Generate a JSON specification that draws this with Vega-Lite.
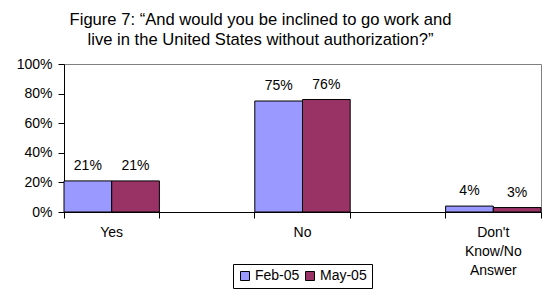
{
  "$schema": "https://vega.github.io/schema/vega-lite/v6.json",
  "width": 477,
  "height": 148,
  "autosize": {"type": "none"},
  "padding": {"left": 64, "top": 64, "right": 12, "bottom": 84},
  "background": "white",
  "title": {
    "text": ["Figure 7: “And would you be inclined to go work and", "live in the United States without authorization?”"],
    "font": "Liberation Sans",
    "fontSize": 16.6,
    "fontWeight": "normal",
    "color": "black",
    "anchor": "middle",
    "dx": -42,
    "offset": 8,
    "lineHeight": 20
  },
  "config": {
    "view": {"stroke": "#808080", "strokeWidth": 1},
    "axis": {"domainColor": "black", "tickColor": "black", "labelColor": "black", "labelFont": "Liberation Sans", "labelFontSize": 14, "grid": false, "title": null}
  },
  "data": {
    "values": [
      {"answer": "Yes", "survey": "Feb-05", "pct": 0.21},
      {"answer": "Yes", "survey": "May-05", "pct": 0.21},
      {"answer": "No", "survey": "Feb-05", "pct": 0.75},
      {"answer": "No", "survey": "May-05", "pct": 0.76},
      {"answer": "Don't Know/No Answer", "survey": "Feb-05", "pct": 0.04},
      {"answer": "Don't Know/No Answer", "survey": "May-05", "pct": 0.03}
    ]
  },
  "encoding": {
    "y": {"field": "pct", "type": "quantitative", "scale": {"domain": [0, 1]}, "axis": {"format": ".0%", "values": [0, 0.2, 0.4, 0.6, 0.8, 1], "tickSize": 6, "labelPadding": 6, "labelOverlap": false, "labelFlush": false}},
    "xOffset": {"field": "survey", "type": "nominal", "sort": ["Feb-05", "May-05"], "scale": {"paddingInner": 0, "paddingOuter": 0}}
  },
  "layer": [
    {
      "mark": {"type": "bar", "stroke": "black", "strokeWidth": 1},
      "encoding": {
        "x": {"field": "answer", "type": "nominal", "sort": ["Yes", "No", "Don't Know/No Answer"], "scale": {"paddingInner": 0.5, "paddingOuter": 0}, "axis": {"orient": "bottom", "bandPosition": 0, "labels": false, "ticks": true, "tickSize": 6, "domain": true}},
        "color": {"field": "survey", "type": "nominal", "sort": ["Feb-05", "May-05"], "scale": {"range": ["#9999FF", "#993366"]},
          "legend": {"orient": "none", "legendX": 169, "legendY": 200, "direction": "horizontal", "title": null, "strokeColor": "black", "fillColor": "white", "padding": 5, "symbolType": "square", "symbolSize": 81, "symbolStrokeColor": "black", "symbolStrokeWidth": 1, "labelFont": "Liberation Sans", "labelFontSize": 14, "labelColor": "black", "labelOffset": 3, "columnPadding": 3}}
      }
    },
    {
      "transform": [{"filter": "datum.survey == 'Feb-05'"}],
      "mark": {"type": "text", "baseline": "alphabetic", "dy": -11, "font": "Liberation Sans", "fontSize": 14, "color": "black"},
      "encoding": {
        "x": {"field": "answer", "type": "nominal", "sort": ["Yes", "No", "Don't Know/No Answer"], "axis": {"orient": "bottom", "bandPosition": 1, "labels": false, "ticks": true, "tickSize": 6, "domain": false}},
        "text": {"field": "pct", "type": "quantitative", "format": ".0%"}
      }
    },
    {
      "transform": [{"filter": "datum.survey == 'May-05'"}],
      "mark": {"type": "text", "baseline": "alphabetic", "dy": -11, "font": "Liberation Sans", "fontSize": 14, "color": "black"},
      "encoding": {
        "x": {"field": "answer", "type": "nominal", "sort": ["Yes", "No", "Don't Know/No Answer"], "axis": {"orient": "bottom", "ticks": false, "domain": false, "labelPadding": 13, "labelLineHeight": 19, "labelBaseline": "top", "labelAngle": 0,
          "labelExpr": "datum.label == 'Yes' || datum.label == 'No' ? datum.label : [\"Don't\", \"Know/No\", \"Answer\"]"}},
        "text": {"field": "pct", "type": "quantitative", "format": ".0%"}
      }
    }
  ],
  "resolve": {"axis": {"x": "independent"}}
}
